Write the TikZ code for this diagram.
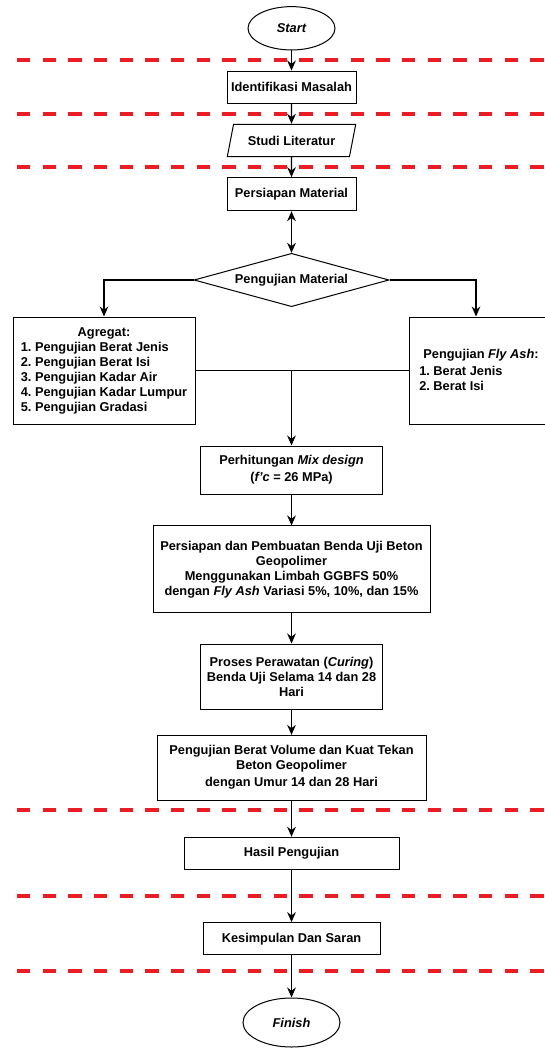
\documentclass[tikz,border=0pt]{standalone}
\usepackage{fontspec}
\setmainfont{Liberation Sans}
\usepackage{tikz}
\usetikzlibrary{shapes.geometric}
\usetikzlibrary{arrows.meta}
\usetikzlibrary{calc}
\frenchspacing

\definecolor{sepred}{RGB}{236,28,36}

\tikzset{
  procbox/.style={draw, line width=0.75pt, rectangle, align=center, inner sep=1pt},
  iobox/.style={draw, line width=0.75pt, trapezium, trapezium left angle=68, trapezium right angle=112, trapezium stretches=true, inner sep=1pt},
  decision/.style={draw, line width=0.75pt, diamond, aspect=3.5, inner sep=0pt},
  termbox/.style={draw, line width=0.75pt, ellipse, inner sep=0pt, font=\fontsize{9.6}{11.25}\selectfont\bfseries\itshape},
  flowline/.style={line width=1pt, -{Stealth[length=7.5pt,width=6.5pt]}},
  bothline/.style={line width=1pt, {Stealth[length=7.5pt,width=6.5pt]}-{Stealth[length=7.5pt,width=6.5pt]}},
  sepline/.style={draw=sepred, line width=3pt, dash pattern=on 10pt off 9.25pt},
}

\begin{document}
\begin{tikzpicture}[x=0.75pt,y=0.75pt,yscale=-1,xscale=1,font=\fontsize{9.6}{11.25}\selectfont\bfseries]
\useasboundingbox (0,0) rectangle (545,1048);

%Dashed separator lines
\draw[sepline] (17,60.3) -- (545,60.3);
\draw[sepline] (17,113.7) -- (545,113.7);
\draw[sepline] (17,166.7) -- (545,166.7);
\draw[sepline] (17,810.3) -- (545,810.3);
\draw[sepline] (17,896) -- (545,896);
\draw[sepline] (17,971) -- (545,971);

%Shape: Ellipse
\node[termbox, minimum width=65.25pt, minimum height=32.5pt] (start) at (291.5,28.3) {Start};
%Shape: Rectangle
\node[procbox, minimum width=96.75pt, minimum height=24.25pt] (ident) at (291.5,87.2) {Identifikasi Masalah};
%Shape: Parallelogram
\node[iobox, minimum width=96.75pt, minimum height=24.3pt] (studi) at (291.5,140.5) {Studi Literatur};
%Shape: Rectangle
\node[procbox, minimum width=96.75pt, minimum height=24.75pt] (persiapan) at (291.5,194.2) {Persiapan Material};
%Shape: Diamond
\node[decision, minimum width=146.25pt, minimum height=40pt] (ujimat) at (291.5,280) {Pengujian Material};

%Shape: Rectangle
\node[procbox, minimum width=136.5pt, minimum height=80.25pt] (agregat) at (104,370.5) {\begin{tabular}{@{}l@{}}
\multicolumn{1}{@{}c@{}}{Agregat:}\\
1. Pengujian Berat Jenis\\
2. Pengujian Berat Isi\\
3. Pengujian Kadar Air\\
4. Pengujian Kadar Lumpur\\
5. Pengujian Gradasi
\end{tabular}};
%Shape: Rectangle
\node[procbox, minimum width=107.25pt, minimum height=80.25pt] (flyash) at (481,370.5) {};
% Text Node
\node[inner sep=0pt] (flyhead) at (481,355.5) {Pengujian \textit{Fly Ash}:};
% Text Node
\node[inner sep=0pt, anchor=west, align=left] (flyitems) at (419,378) {1. Berat Jenis\\2. Berat Isi};

%Shape: Rectangle
\node[procbox, minimum width=136.5pt, minimum height=36pt] (mix) at (291.5,470) {Perhitungan \textit{Mix design}\\[1.5pt](\textit{f'c} = 26 MPa)};
%Shape: Rectangle
\node[procbox, minimum width=207.75pt, minimum height=65pt] (benda) at (291.5,569.3) {Persiapan dan Pembuatan Benda Uji Beton\\Geopolimer\\Menggunakan Limbah GGBFS 50\%\\dengan \textit{Fly Ash} Variasi 5\%, 10\%, dan 15\%};
%Shape: Rectangle
\node[procbox, minimum width=136.5pt, minimum height=48.75pt] (curing) at (291.5,676.5) {Proses Perawatan (\textit{Curing})\\Benda Uji Selama 14 dan 28\\Hari};
%Shape: Rectangle
\node[procbox, minimum width=201.75pt, minimum height=48.5pt] (kuat) at (291.5,767.7) {Pengujian Berat Volume dan Kuat Tekan\\Beton Geopolimer\\[1.5pt]dengan Umur 14 dan 28 Hari};
%Shape: Rectangle
\node[procbox, minimum width=161.25pt, minimum height=24pt] (hasil) at (291.5,853.3) {Hasil Pengujian};
%Shape: Rectangle
\node[procbox, minimum width=132.75pt, minimum height=24.25pt] (saran) at (291.5,938.8) {Kesimpulan Dan Saran};
%Shape: Ellipse
\node[termbox, minimum width=72.75pt, minimum height=36.75pt] (finish) at (291.5,1022.5) {Finish};

%Connectors
\draw[flowline] (start) -- (ident);
\draw[flowline] (ident) -- (studi);
\draw[flowline] (studi) -- (persiapan);
\draw[bothline] (persiapan) -- (ujimat);
\draw[flowline] (ujimat.west) -| (agregat.north);
\draw[flowline] (ujimat.east) -| ($(flyash.north)+(-5,0)$);
\draw[line width=1pt] (agregat.east) -- (flyash.west);
\coordinate (join) at (agregat.east -| mix.north);
\draw[flowline] (join) -- (mix.north);
\draw[flowline] (mix) -- (benda);
\draw[flowline] (benda) -- (curing);
\draw[flowline] (curing) -- (kuat);
\draw[flowline] (kuat) -- (hasil);
\draw[flowline] (hasil) -- (saran);
\draw[flowline] (saran) -- (finish);

\end{tikzpicture}
\end{document}
